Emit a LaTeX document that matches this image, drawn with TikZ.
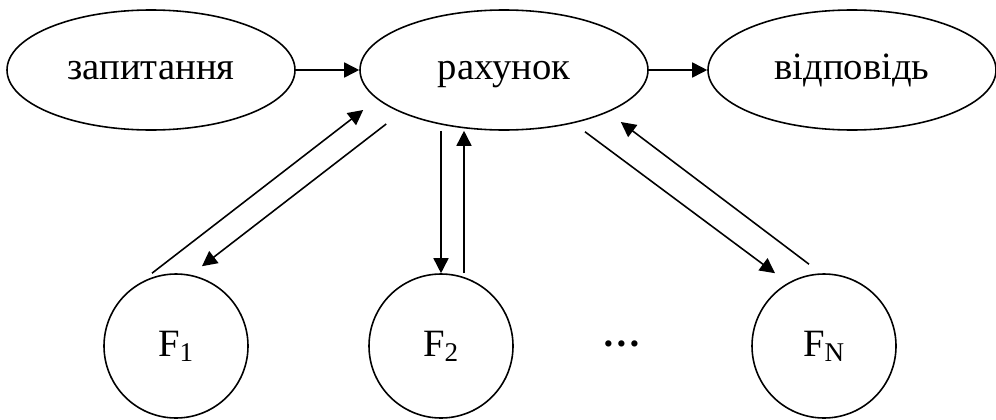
\documentclass[tikz,border=0pt]{standalone}
\usepackage{fontspec}
\setmainfont{Liberation Serif}
\usetikzlibrary{arrows.meta,calc,shapes.geometric}

\begin{document}
\begin{tikzpicture}[x=0.2mm,y=-0.2mm,>={Triangle[length=3mm,width=3mm]},line width=0.9pt,
  every node/.style={font=\fontsize{22}{26}\selectfont},
  stage/.style={draw,ellipse,minimum width=57.6mm,minimum height=24mm,inner sep=0pt,text height=3.6mm,text depth=0pt},
  func/.style={draw,circle,minimum size=28.8mm,inner sep=0pt,text height=4mm,text depth=0pt}]
\useasboundingbox (0,0) rectangle (996,419);

% Top row
\node[stage] (zap) at (151,70) {запитання};
\node[stage] (rah) at (504,70) {рахунок};
\node[stage] (vid) at (852,70) {відповідь};

\draw[->] (zap) -- (rah);
\draw[->] (rah) -- (vid);

% Functions
\node[func] (f1) at (176,346) {F\textsubscript{1}};
\node[func] (f2) at (441,346) {F\textsubscript{2}};
\node[func] (fn) at (824,346) {F\textsubscript{N}};
\node[anchor=base] (dots) at (622,346) {\textbf{…}};

% F1 <-> рахунок
\coordinate (f1out) at ($(f1.north)+(-24,0)$);
\coordinate (f1in)  at ($(f1.north)+(26,-7)$);
\draw[->] (f1out) -- ($(rah.west)+(4,40)$);
\draw[->] ($(rah.west)+(27,54)$) -- (f1in);

% F2 <-> рахунок
\coordinate (f2out) at ($(f2.north)+(23,0)$);
\draw[->] (rah.south -| f2.north) -- (f2.north);
\draw[->] (f2out) -- (f2out |- rah.south);

% FN <-> рахунок
\coordinate (fnin)  at ($(fn.north)+(-49,0)$);
\coordinate (fnout) at ($(fn.north)+(-15,-9)$);
\draw[->] ($(rah.south)+(81,1)$) -- (fnin);
\draw[->] (fnout) -- ($(rah.east)+(-28,52)$);

\end{tikzpicture}
\end{document}
